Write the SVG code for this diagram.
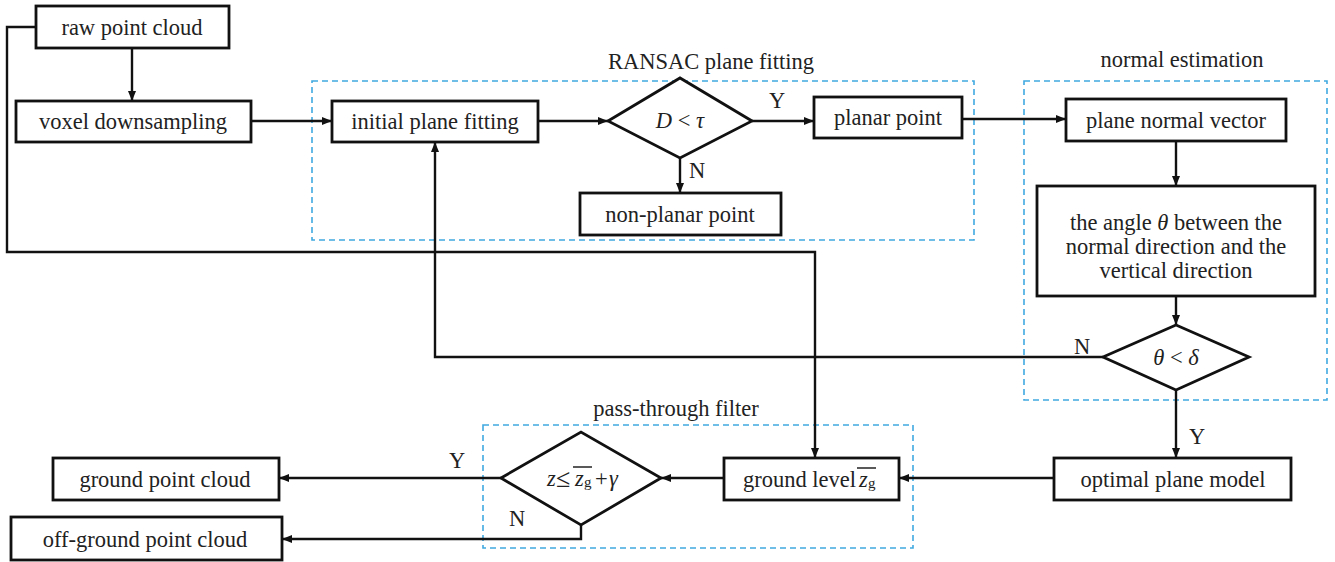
<svg xmlns="http://www.w3.org/2000/svg" width="1335" height="562" viewBox="0 0 1335 562">
<style>
.box{fill:#fff;stroke:#111;stroke-width:2.8}
.dia{fill:#fff;stroke:#111;stroke-width:2.8}
.grp{fill:none;stroke:#3fa9e0;stroke-width:1.6;stroke-dasharray:6 4}
.c{fill:none;stroke:#111;stroke-width:2.4}
.ov{stroke:#222;stroke-width:1.5}
text{font-family:"Liberation Serif","Times New Roman",serif;font-size:22.5px;fill:#222;text-anchor:middle;dominant-baseline:central}
.it{font-style:italic}
.st{text-anchor:start}
.sub{font-size:15px}
</style>
<defs>
<marker id="ah" viewBox="0 0 10 8" refX="10" refY="4" markerWidth="10" markerHeight="8" markerUnits="userSpaceOnUse" orient="auto">
<path d="M0,0 L10,4 L0,8 Z" fill="#111"/>
</marker>
</defs>
<rect width="1335" height="562" fill="#fff"/>

<g id="groups">
<rect class="grp" x="312" y="81" width="662" height="159"/>
<text x="711" y="61">RANSAC plane fitting</text>
<rect class="grp" x="1024" y="81" width="303" height="319"/>
<text x="1182" y="59">normal estimation</text>
<rect class="grp" x="483" y="425" width="430" height="123"/>
<text x="676" y="408">pass-through filter</text>
</g>

<g id="connectors">
<path class="c" d="M132,48 V101" marker-end="url(#ah)"/>
<path class="c" d="M251,121 H332" marker-end="url(#ah)"/>
<path class="c" d="M538,121 H608" marker-end="url(#ah)"/>
<path class="c" d="M752,121 H814" marker-end="url(#ah)"/>
<text x="777" y="100">Y</text>
<path class="c" d="M680,158 V193" marker-end="url(#ah)"/>
<text x="697" y="170">N</text>
<path class="c" d="M962,119 H1066" marker-end="url(#ah)"/>
<path class="c" d="M1176,141 V186" marker-end="url(#ah)"/>
<path class="c" d="M1176,296 V325" marker-end="url(#ah)"/>
<path class="c" d="M1103,357 H435 V142" marker-end="url(#ah)"/>
<text x="1082" y="346">N</text>
<path class="c" d="M1176,390 V458" marker-end="url(#ah)"/>
<text x="1197" y="436">Y</text>
<path class="c" d="M1054,478 H899" marker-end="url(#ah)"/>
<path class="c" d="M724,478 H661" marker-end="url(#ah)"/>
<path class="c" d="M501,478 H279" marker-end="url(#ah)"/>
<text x="457" y="460">Y</text>
<path class="c" d="M581,525 V539 H282" marker-end="url(#ah)"/>
<text x="517" y="518">N</text>
<path class="c" d="M36,27 H7 V252 H815 V458" marker-end="url(#ah)"/>
</g>

<g id="raw"><rect class="box" x="36" y="6" width="193" height="42"/><text x="132" y="27">raw point cloud</text></g>
<g id="voxel"><rect class="box" x="16" y="101" width="235" height="41"/><text x="133" y="121">voxel downsampling</text></g>
<g id="initial"><rect class="box" x="332" y="101" width="206" height="41"/><text x="435" y="121">initial plane fitting</text></g>
<g id="d1"><polygon class="dia" points="608,121 680,78 752,121 680,158"/><text x="680" y="120"><tspan class="it">D</tspan> &lt; <tspan class="it">τ</tspan></text></g>
<g id="planar"><rect class="box" x="814" y="97" width="148" height="41"/><text x="888" y="117">planar point</text></g>
<g id="nonplanar"><rect class="box" x="580" y="193" width="201" height="42"/><text x="680" y="214">non-planar point</text></g>
<g id="normal"><rect class="box" x="1066" y="99" width="220" height="42"/><text x="1176" y="120">plane normal vector</text></g>
<g id="angle"><rect class="box" x="1037" y="186" width="278" height="110"/>
<text x="1176" y="222">the angle <tspan class="it">θ</tspan> between the</text>
<text x="1176" y="246">normal direction and the</text>
<text x="1176" y="270">vertical direction</text></g>
<g id="d2"><polygon class="dia" points="1103,357 1176,325 1249,357 1176,390"/><text x="1176" y="357"><tspan class="it">θ</tspan> &lt; <tspan class="it">δ</tspan></text></g>
<g id="optimal"><rect class="box" x="1054" y="458" width="237" height="42"/><text x="1173" y="479">optimal plane model</text></g>
<g id="ground"><rect class="box" x="724" y="458" width="175" height="42"/>
<text class="st" y="479"><tspan x="743">ground level</tspan><tspan class="it" x="859">z</tspan><tspan class="sub" x="868" dy="4">g</tspan></text>
<line class="ov" x1="857" y1="468" x2="876" y2="468"/></g>
<g id="d3"><polygon class="dia" points="501,478 581,432 661,478 581,525"/>
<text class="st" y="478"><tspan class="it" x="547">z</tspan><tspan x="556" font-size="26">≤</tspan><tspan class="it" x="575">z</tspan><tspan class="sub" x="584" dy="4">g</tspan><tspan x="595" dy="-4">+</tspan><tspan class="it" x="609">γ</tspan></text>
<line class="ov" x1="573" y1="467" x2="592" y2="467"/></g>
<g id="gpc"><rect class="box" x="53" y="458" width="226" height="42"/><text x="165" y="479">ground point cloud</text></g>
<g id="ogpc"><rect class="box" x="11" y="517" width="271" height="43"/><text x="145" y="539">off-ground point cloud</text></g>
</svg>
